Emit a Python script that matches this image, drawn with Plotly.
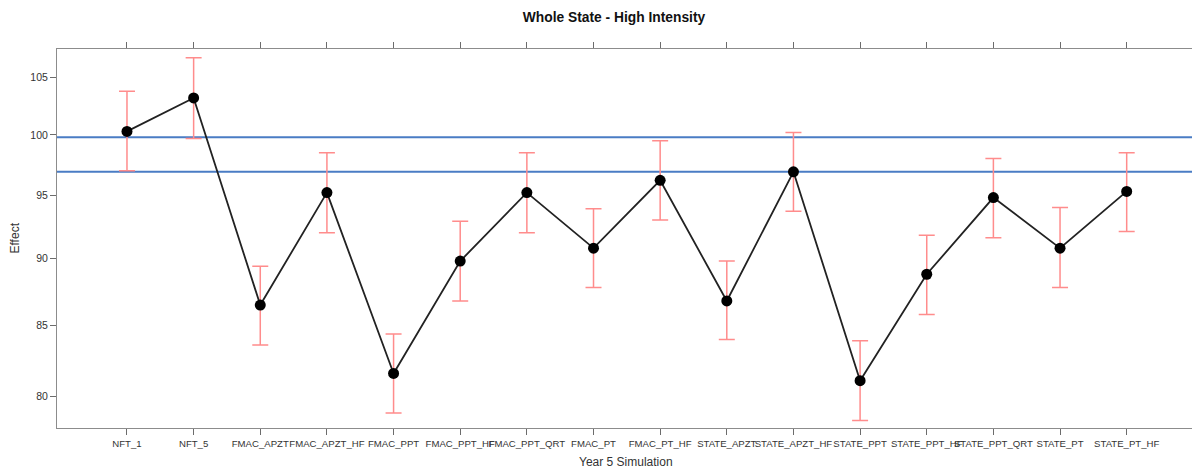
import plotly.graph_objects as go

categories = ["NFT_1", "NFT_5", "FMAC_APZT", "FMAC_APZT_HF", "FMAC_PPT", "FMAC_PPT_HF",
              "FMAC_PPT_QRT", "FMAC_PT", "FMAC_PT_HF", "STATE_APZT", "STATE_APZT_HF",
              "STATE_PPT", "STATE_PPT_HF", "STATE_PPT_QRT", "STATE_PT", "STATE_PT_HF"]
effect = [100.3, 103.2, 86.5, 95.2, 81.6, 89.8, 95.2, 90.8, 96.2, 86.8, 96.9, 81.1, 88.8, 94.8, 90.8, 95.3]
lower = [97.0, 99.7, 83.6, 92.0, 78.9, 86.8, 92.0, 87.8, 93.0, 84.0, 93.7, 78.4, 85.8, 91.6, 87.8, 92.1]
upper = [103.8, 106.8, 89.4, 98.5, 84.4, 92.9, 98.5, 93.9, 99.5, 89.8, 100.2, 83.9, 91.8, 98.0, 94.0, 98.5]
ref_lines = [99.8, 96.9]
y_ticks = [80, 85, 90, 95, 100, 105]

err_plus = [u - e for u, e in zip(upper, effect)]
err_minus = [e - l for e, l in zip(effect, lower)]

fig = go.Figure()
fig.add_trace(go.Scatter(
    x=categories, y=effect, mode="lines+markers",
    line=dict(color="#222222", width=1.8),
    marker=dict(color="black", size=11),
    error_y=dict(type="data", array=err_plus, arrayminus=err_minus,
                 color="#ff8c8c", thickness=1.5, width=8),
    showlegend=False,
))
for v in ref_lines:
    fig.add_hline(y=v, line=dict(color="#4a7cc4", width=2), layer="below")

W, H = 1192, 468
L, T, B, R = 57, 49, 468 - 428, 0
PW, PH = W - L - R, H - T - B
fig.update_layout(
    width=W, height=H,
    margin=dict(l=L, r=R, t=T, b=B, autoexpand=False),
    plot_bgcolor="white", paper_bgcolor="white",
    font=dict(family="Liberation Sans, Arial, sans-serif", color="#333333"),
    title=dict(text="<b>Whole State - High Intensity</b>", x=614 / W, xref="container",
               xanchor="center", y=1 - 17 / H, yref="container", yanchor="middle",
               font=dict(size=13.8, color="#111111")),
    annotations=[
        dict(text="Effect", xref="paper", yref="paper", x=(14 - L) / PW,
             y=0.5, textangle=-90, showarrow=False, xanchor="center", yanchor="middle",
             font=dict(size=12, color="#333333")),
        dict(text="Year 5 Simulation", xref="paper", yref="paper", x=(626 - L) / PW,
             y=-(462 - 428) / PH, showarrow=False, xanchor="center",
             yanchor="middle", font=dict(size=12, color="#333333")),
    ],
)
fig.update_xaxes(
    type="category", range=[-1.05, 15.98],
    showline=True, linecolor="#8c8c8c", linewidth=1, mirror="ticks",
    ticks="outside", ticklen=6, tickcolor="#6c6c6c", tickwidth=1,
    tickangle=0, tickfont=dict(size=9.6, color="#333333"),
    showgrid=False, zeroline=False, automargin=False,
)
fig.update_yaxes(
    type="log", range=[1.8915, 2.0318],
    tickvals=y_ticks, ticktext=[str(t) for t in y_ticks],
    showline=True, linecolor="#8c8c8c", linewidth=1, mirror=False,
    ticks="outside", ticklen=6, tickcolor="#6c6c6c", tickwidth=1,
    tickfont=dict(size=10.5, color="#333333"),
    showgrid=False, zeroline=False, automargin=False,
)
fig.write_html(
    "out.html",
    config={"displayModeBar": False},
    post_script="document.body.style.margin='0';document.body.style.overflow='hidden';",
)
